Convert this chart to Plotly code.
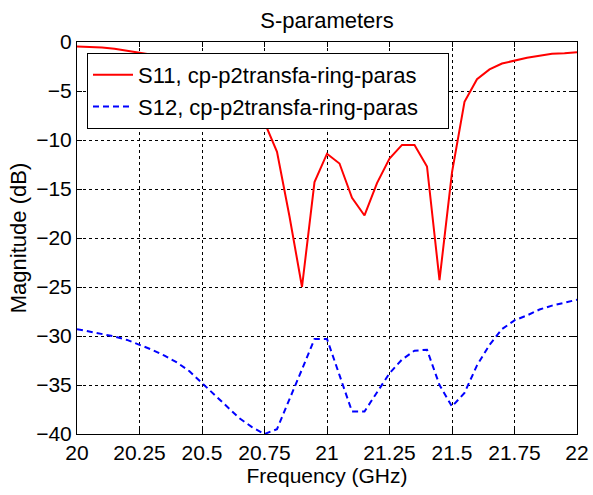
import plotly.graph_objects as go

# Frequency sweep (GHz), 50 MHz steps
freq = [round(20.0 + 0.05 * i, 2) for i in range(41)]

# Reflection |S11| in dB
s11 = [-0.45, -0.5, -0.55, -0.7, -0.9, -1.15, -1.3, -1.6, -2.0, -2.5,
       -3.1, -3.8, -4.7, -5.6, -6.7, -8.2, -11.2, -17.8, -25.0, -14.3,
       -11.4, -12.4, -15.9, -17.7, -14.4, -11.9, -10.5, -10.5, -12.7, -24.3,
       -13.3, -6.1, -3.8, -2.8, -2.2, -1.9, -1.6, -1.4, -1.2, -1.15,
       -1.05]

# Transmission |S12| in dB
s12 = [-29.3, -29.55, -29.8, -30.05, -30.4, -30.9, -31.4, -32.0, -32.7, -33.6,
       -34.8, -36.0, -37.2, -38.4, -39.3, -40.0, -39.5, -36.5, -33.4, -30.3,
       -30.3, -34.0, -37.7, -37.7, -35.7, -33.8, -32.4, -31.5, -31.4, -35.0,
       -37.2, -35.8, -33.0, -30.9, -29.3, -28.4, -27.9, -27.3, -26.9, -26.6,
       -26.3]

x_ticks = [20, 20.25, 20.5, 20.75, 21, 21.25, 21.5, 21.75, 22]
x_labels = ["20", "20.25", "20.5", "20.75", "21", "21.25", "21.5", "21.75", "22"]
y_ticks = [0, -5, -10, -15, -20, -25, -30, -35, -40]

FONT = "Liberation Sans, Arial, sans-serif"
FS = 21

fig = go.Figure()
fig.add_trace(go.Scatter(
    x=freq, y=s11, mode="lines", name="S11, cp-p2transfa-ring-paras",
    line=dict(color="#ff0000", width=2),
))
fig.add_trace(go.Scatter(
    x=freq, y=s12, mode="lines", name="S12, cp-p2transfa-ring-paras",
    line=dict(color="#0000ff", width=2, dash="6px,4px"),
))

axis_common = dict(
    showline=True, linecolor="black", linewidth=1, mirror="allticks",
    ticks="inside", ticklen=5, tickcolor="black", automargin=False,
    showgrid=True, gridcolor="black", gridwidth=1, griddash="3px,3px",
    zeroline=False, tickfont=dict(family=FONT, size=FS, color="black"),
)

fig.update_xaxes(
    range=[20, 22], tickvals=x_ticks, ticktext=x_labels,
    title=dict(text="Frequency (GHz)", font=dict(family=FONT, size=FS, color="black"), standoff=5),
    **axis_common,
)
fig.update_yaxes(
    range=[-40, 0], tickvals=y_ticks,
    title=dict(text="Magnitude (dB)", font=dict(family=FONT, size=22, color="black"), standoff=3),
    **axis_common,
)

fig.update_layout(
    width=593, height=495,
    margin=dict(l=77, r=16, t=42, b=61),
    paper_bgcolor="white", plot_bgcolor="white",
    font=dict(family=FONT, size=FS, color="black"),
    title=dict(text="S-parameters", xref="paper", x=0.5, xanchor="center",
               yref="container", y=0.96, yanchor="middle",
               font=dict(family=FONT, size=22, color="black")),
    legend=dict(
        orientation="h", entrywidth=305, entrywidthmode="pixels",
        x=0.02, y=0.972, xanchor="left", yanchor="top",
        bgcolor="white", bordercolor="black", borderwidth=1,
        font=dict(family=FONT, size=22, color="black"),
        tracegroupgap=0, itemwidth=40,
    ),
    showlegend=True,
)

fig.write_html("out.html")
